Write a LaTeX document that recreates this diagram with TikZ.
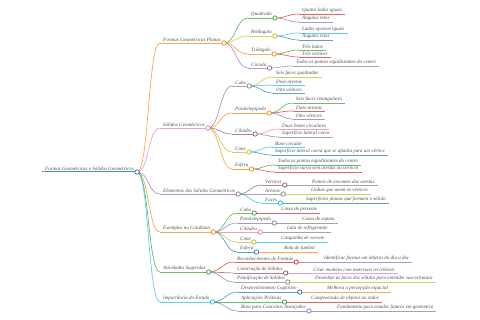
\documentclass[tikz,border=0pt]{standalone}
\usepackage{fontspec}
\usepackage{xcolor}
\usepackage{tikz}
\setmainfont{Liberation Serif}

\definecolor{mmblue}{HTML}{1F77B4}
\definecolor{mmorange}{HTML}{FF7F0E}
\definecolor{mmgreen}{HTML}{2CA02C}
\definecolor{mmred}{HTML}{D62728}
\definecolor{mmpurple}{HTML}{9467BD}
\definecolor{mmbrown}{HTML}{8C564B}
\definecolor{mmpink}{HTML}{E377C2}
\definecolor{mmgray}{HTML}{7F7F7F}
\definecolor{mmolive}{HTML}{BCBD22}
\definecolor{mmcyan}{HTML}{17BECF}

\begin{document}
\begin{tikzpicture}[x=1pt, y=-1pt,
    lbl/.style={anchor=south west, inner xsep=3pt, inner ysep=1pt, font=\fontsize{5}{6}\selectfont\itshape, text=black!70},
    link/.style={line width=0.7pt, opacity=0.7},
    dot/.style={line width=0.7pt}]

    \useasboundingbox (0,0) rectangle (480,320);

    % Root
    \node[lbl] (root) at (42,172) {Formas Geométricas e Sólidos Geométricos};
    \draw[line width=1pt, color=mmblue, opacity=0.8] (root.south west) -- (root.south east);

    % Branches: parent/name/x/y/colour/text
    \foreach \p/\nm/\x/\y/\col/\txt in {
        root/fp/160/43/mmorange/Formas Geométricas Planas,
        root/sg/160/128/mmpink/Sólidos Geométricos,
        root/el/160/194/mmpurple/Elementos dos Sólidos Geométricos,
        root/ec/160/232/mmorange/Exemplos no Cotidiano,
        root/as/160/272/mmgreen/Atividades Sugeridas,
        root/ie/160/302/mmcyan/Importância do Estudo,
        % Formas planas
        fp/qd/248/18/mmgreen/Quadrado,
        fp/rt/248/36/mmolive/Retângulo,
        fp/tr/248/54/mmorange/Triângulo,
        fp/ci/248/68/mmpurple/Círculo,
        qd/qd1/299/14/mmred/Quatro lados iguais,
        qd/qd2/299/22/mmpurple/Ângulos retos,
        rt/rt1/299/33/mmcyan/Lados opostos iguais,
        rt/rt2/299/40/mmblue/Ângulos retos,
        tr/tr1/299/50/mmgreen/Três lados,
        tr/tr2/299/57/mmred/Três vértices,
        ci/ci1/293/66/mmgray/Todos os pontos equidistantes do centro,
        % Solidos
        sg/cb/232/86/mmgray/Cubo,
        sg/pp/232/113/mmorange/Paralelepípedo,
        sg/cl/232/134/mmbrown/Cilindro,
        sg/cn/232/152/mmolive/Cone,
        sg/ef/232/169/mmorange/Esfera,
        cb/cb1/273/77/mmolive/Seis faces quadradas,
        cb/cb2/273/85/mmcyan/Doze arestas,
        cb/cb3/273/93/mmblue/Oito vértices,
        pp/pp1/293/103/mmgreen/Seis faces retangulares,
        pp/pp2/293/111/mmred/Doze arestas,
        pp/pp3/293/119/mmpurple/Oito vértices,
        cl/cl1/279/129/mmpink/Duas bases circulares,
        cl/cl2/279/137/mmgray/Superfície lateral curva,
        cn/cn1/272/147/mmcyan/Base circular,
        cn/cn2/272/155/mmblue/Superfície lateral curva que se afunila para um vértice,
        ef/ef1/275/165/mmgreen/Todos os pontos equidistantes do centro,
        ef/ef2/275/172/mmred/Superfície curva sem arestas ou vértices,
        % Elementos
        el/vt/262/185/mmbrown/Vértices,
        el/ar/262/194/mmgray/Arestas,
        el/fc/262/203/mmcyan/Faces,
        vt/vt1/309/185/mmgray/Pontos de encontro das arestas,
        ar/ar1/308/194/mmolive/Linhas que unem os vértices,
        fc/fc1/303/203/mmblue/Superfícies planas que formam o sólido,
        % Exemplos
        ec/xcb/237/213/mmgreen/Cubo,
        ec/xpp/237/223/mmpurple/Paralelepípedo,
        ec/xcl/237/232/mmpink/Cilindro,
        ec/xcn/237/242/mmolive/Cone,
        ec/xef/237/252/mmblue/Esfera,
        xcb/xcb1/278/213/mmred/Caixa de presente,
        xpp/xpp1/299/223/mmgray/Caixa de sapato,
        xcl/xcl1/284/232/mmgray/Lata de refrigerante,
        xcn/xcn1/278/242/mmcyan/Casquinha de sorvete,
        xef/xef1/281/252/mmorange/Bola de futebol,
        % Atividades
        as/rf/234/262/mmred/Reconhecimento de Formas,
        as/cs/234/273/mmbrown/Construção de Sólidos,
        as/ps/234/282/mmgray/Planificação de Sólidos,
        rf/rf1/321/262/mmpurple/Identificar formas em objetos do dia a dia,
        cs/cs1/310/273/mmpink/Criar modelos com materiais recicláveis,
        ps/ps1/312/282/mmolive/Desenhar as faces dos sólidos para entender sua estrutura,
        % Importancia
        ie/dc/238/292/mmblue/Desenvolvimento Cognitivo,
        ie/ap/238/302/mmgreen/Aplicações Práticas,
        ie/bc/238/311/mmpurple/Base para Conceitos Avançados,
        dc/dc1/324/292/mmorange/Melhora a percepção espacial,
        ap/ap1/308/302/mmred/Compreensão de objetos ao redor,
        bc/bc1/334/311/mmgray/Fundamento para estudos futuros em geometria} {
        \node[lbl] (\nm) at (\x,\y) {\txt};
        \draw[link, color=\col] (\nm.south west) -- (\nm.south east);
        \draw[link, color=\col] (\p.south east) .. controls +(12,0) and +(-12,0) .. (\nm.south west);
    }

    % Circles on the branching points
    \foreach \nm/\col in {root/mmblue, fp/mmorange, sg/mmpink, el/mmpurple, ec/mmorange, as/mmgreen, ie/mmcyan,
        qd/mmgreen, rt/mmolive, tr/mmorange, ci/mmpurple,
        cb/mmgray, pp/mmorange, cl/mmbrown, cn/mmolive, ef/mmorange,
        vt/mmbrown, ar/mmgray, fc/mmcyan,
        xcb/mmgreen, xpp/mmpurple, xcl/mmpink, xcn/mmolive, xef/mmblue,
        rf/mmred, cs/mmbrown, ps/mmgray, dc/mmblue, ap/mmgreen, bc/mmpurple} {
        \draw[dot, draw=\col, fill=white] (\nm.south east) circle (2.2);
    }
\end{tikzpicture}
\end{document}
